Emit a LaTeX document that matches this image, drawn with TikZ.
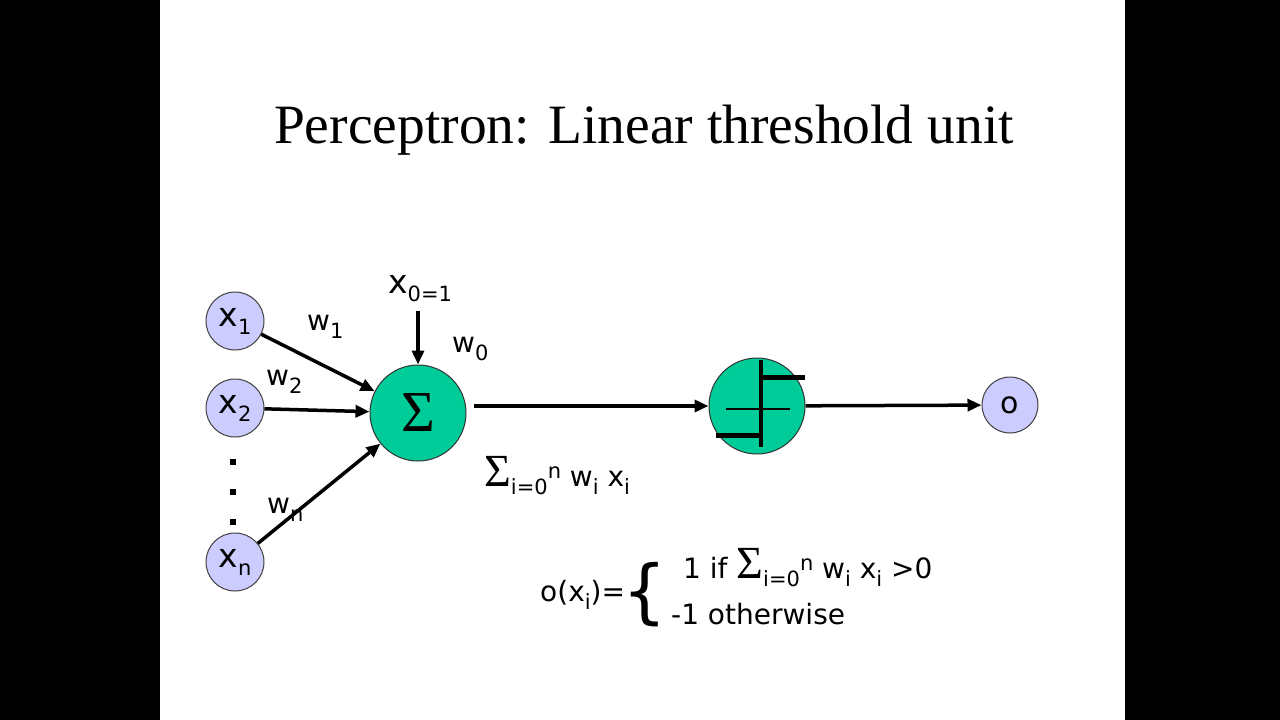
\documentclass[tikz,border=0pt]{standalone}
\usepackage{fontspec}
\setmainfont{Liberation Serif}
\newfontfamily\slidesans{DejaVu Sans}
\usetikzlibrary{arrows.meta}

\definecolor{unitgreen}{HTML}{00CC99}
\definecolor{inputblue}{HTML}{CCCCFF}

% lowered / raised small text in the slide font
\newcommand\subtxt[1]{\raisebox{-8pt}{\fontsize{21}{21}\selectfont #1}}
\newcommand\suptxt[1]{\raisebox{8pt}{\fontsize{21}{21}\selectfont #1}}
\newcommand\bigsum{{\rmfamily\fontsize{46}{46}\selectfont Σ}}

\tikzset{
	input/.style={circle, draw=black!75, line width=1pt, fill=inputblue, minimum size=58pt, inner sep=0pt,
		font=\slidesans\fontsize{33}{33}\selectfont},
	unit/.style={circle, draw=black!80, line width=1pt, fill=unitgreen, minimum size=96pt, inner sep=0pt},
	wire/.style={line width=3.5pt, -{Triangle[length=14pt,width=12pt]}},
	stepline/.style={line width=5pt},
	lbl/.style={anchor=base west, inner sep=0pt, font=\slidesans\fontsize{28}{28}\selectfont},
	bigl/.style={anchor=base west, inner sep=0pt, font=\slidesans\fontsize{33}{33}\selectfont},
}

\begin{document}
\begin{tikzpicture}[x=1pt, y=-1pt]
\useasboundingbox (0,0) rectangle (1280,720);
\fill[white] (0,0) rectangle (1280,720);
\fill[black] (0,0) rectangle (160,720);
\fill[black] (1125,0) rectangle (1280,720);

% title
\node[anchor=base, inner sep=0pt, font=\fontsize{55.5}{56}\selectfont] (title) at (644,143)
	{Perceptron: Linear threshold unit};

% inputs
\node[input] (x1) at (235,321) {x\subtxt{1}};
\node[input] (x2) at (235,408) {x\subtxt{2}};
\node[input] (xn) at (235,562) {x\subtxt{n}};
\foreach \y in {462,492,522}
	\fill (230,\y-3) rectangle ++(6,6);

% summation and threshold units
\node[unit, font=\fontsize{58}{58}\selectfont] (sum) at (418,413) {Σ};
\node[unit] (step) at (757,406) {};
\node[input, minimum size=56pt, font=\slidesans\fontsize{30}{30}\selectfont] (out) at (1010,405) {o};

\draw[line width=2pt] ([shift={(-31,3)}]step.center) -- ([shift={(33,3)}]step.center);
\draw[line width=4pt] ([shift={(4,-46)}]step.center) -- ([shift={(4,41)}]step.center);
\draw[stepline] ([shift={(2,-29)}]step.center) -- ([shift={(48,-29)}]step.center);
\draw[stepline] ([shift={(-41,29)}]step.center) -- ([shift={(6,29)}]step.center);

% bias input
\node[bigl] (x0) at (388,293) {x\subtxt{0=1}};
\coordinate (x0end) at (418,311);
\coordinate (sumout) at (474,406);

% connectors
\draw[wire] (x1) -- (sum);
\draw[wire] (x2) -- (sum);
\draw[wire] (xn) -- (sum);
\draw[wire] (x0end) -- (sum);
\draw[wire] (sumout) -- (step);
\draw[wire] (step) -- (out);

% weights
\node[lbl] (w1) at (307,330) {w\subtxt{1}};
\node[lbl] (w0) at (452,352) {w\subtxt{0}};
\node[lbl] (w2) at (266,385) {w\subtxt{2}};
\node[lbl] (wn) at (267,513) {w\subtxt{n}};

% net input
\node[lbl] (net) at (484,486) {\bigsum\subtxt{i=0}\suptxt{n} w\subtxt{i} x\subtxt{i}};

% output rule
\node[lbl] (olhs) at (540,601) {o(x\subtxt{i})=};
\node[anchor=base west, inner sep=0pt, font=\slidesans\fontsize{70}{70}\selectfont] (brace) at (622,615)
	{\{};
\node[lbl] (case1) at (683,578) {1 if \bigsum\subtxt{i=0}\suptxt{n} w\subtxt{i} x\subtxt{i} >0};
\node[lbl] (case2) at (671,624) {-1 otherwise};
\end{tikzpicture}
\end{document}
